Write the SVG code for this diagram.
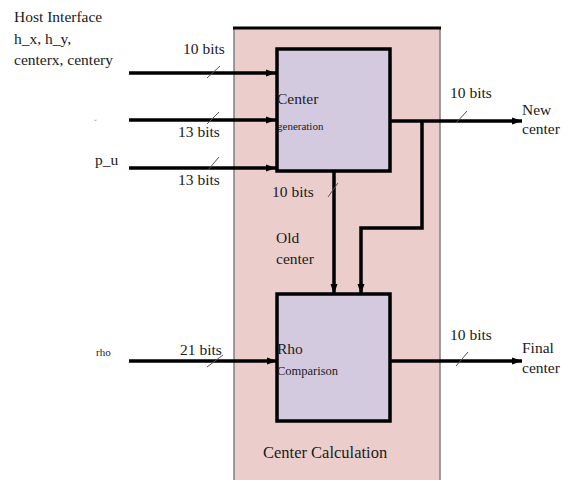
<svg xmlns="http://www.w3.org/2000/svg" width="565" height="480" viewBox="0 0 565 480">
<style>
text{font-family:"Liberation Serif","Times New Roman",serif;fill:#1a1a1a}
.t{font-size:15.5px}
.s{font-size:11px}
.m{font-size:12.5px}
.w{stroke:#000;stroke-width:3.5;fill:none}
.sl{stroke:#555;stroke-width:1;fill:none}
.box{fill:#d4cae0;stroke:#000;stroke-width:3.5}
</style>
<defs>
<marker id="ah" markerUnits="userSpaceOnUse" markerWidth="10" markerHeight="8" refX="10" refY="4" orient="auto">
<path d="M0,0.5 L10,4 L0,7.5 Z" fill="#000"/>
</marker>
</defs>
<g id="center-calculation">
<rect x="234" y="28" width="206" height="460" fill="#ebcecc" stroke="#808080" stroke-width="1.5"/>
<line x1="233" y1="28" x2="441" y2="28" stroke="#000" stroke-width="3"/>
<text class="t" x="263" y="458" style="font-size:16.5px">Center Calculation</text>
</g>
<g id="host-labels">
<text class="t" x="14" y="22">Host Interface</text>
<text class="t" x="14" y="44">h_x, h_y,</text>
<text class="t" x="14" y="65">centerx, centery</text>
<text x="94" y="126" style="font-size:8px;fill:#999">ˇ</text>
<text class="t" x="95" y="165">p_u</text>
<text class="s" x="96" y="356">rho</text>
</g>
<g id="connectors">
<line class="w" x1="129" y1="73" x2="276" y2="73" marker-end="url(#ah)"/>
<line class="w" x1="129" y1="120" x2="276" y2="120" marker-end="url(#ah)"/>
<line class="w" x1="129" y1="168" x2="276" y2="168" marker-end="url(#ah)"/>
<line class="w" x1="129" y1="361" x2="277" y2="361" marker-end="url(#ah)"/>
<line class="w" x1="391" y1="121" x2="522" y2="121" marker-end="url(#ah)"/>
<line class="w" x1="391" y1="361" x2="522" y2="361" marker-end="url(#ah)"/>
<line class="w" x1="334" y1="172" x2="334" y2="294" marker-end="url(#ah)"/>
<polyline class="w" points="422,121 422,228 361,228 361,294" marker-end="url(#ah)"/>
<line class="sl" x1="207" y1="78" x2="220" y2="66"/>
<line class="sl" x1="207" y1="124" x2="219" y2="112"/>
<line class="sl" x1="208" y1="170" x2="219" y2="157"/>
<line class="sl" x1="207" y1="367" x2="223" y2="355"/>
<line class="sl" x1="456" y1="123" x2="467" y2="111"/>
<line class="sl" x1="456" y1="366" x2="468" y2="352"/>
<line class="sl" x1="328" y1="197" x2="338" y2="183"/>
<text class="t" x="183" y="54">10 bits</text>
<text class="t" x="178" y="137">13 bits</text>
<text class="t" x="178" y="185">13 bits</text>
<text class="t" x="180" y="355">21 bits</text>
<text class="t" x="272" y="197">10 bits</text>
<text class="t" x="276" y="243">Old</text>
<text class="t" x="276" y="264">center</text>
<text class="t" x="450" y="98">10 bits</text>
<text class="t" x="522" y="115">New</text>
<text class="t" x="522" y="134">center</text>
<text class="t" x="450" y="340">10 bits</text>
<text class="t" x="522" y="353">Final</text>
<text class="t" x="522" y="373">center</text>
</g>
<g id="center-generation">
<rect class="box" x="277" y="49" width="113" height="122"/>
<text class="t" x="277" y="104">Center</text>
<text class="s" x="277" y="130">generation</text>
</g>
<g id="rho-comparison">
<rect class="box" x="277" y="294" width="113" height="127"/>
<text class="t" x="277" y="354">Rho</text>
<text class="m" x="277" y="375">Comparison</text>
</g>
</svg>
